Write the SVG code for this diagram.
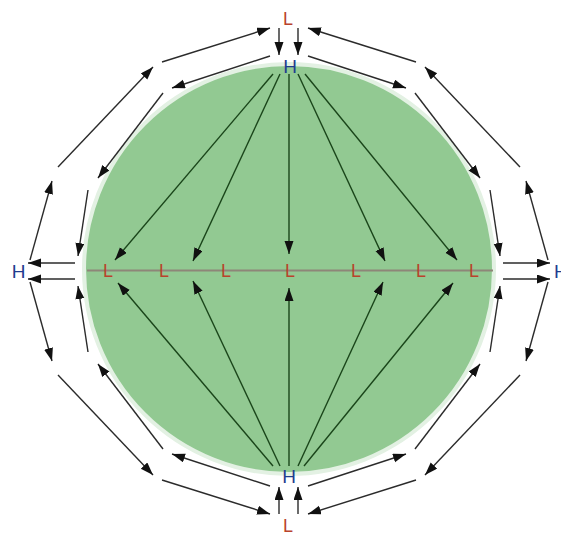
<svg xmlns="http://www.w3.org/2000/svg" width="561" height="535" viewBox="0 0 561 535">
<style>
.ring{stroke:#2b2b2b;stroke-width:1.4;fill:none;marker-end:url(#ah)}
.inner{stroke:#1a451a;stroke-width:1.4;fill:none;marker-end:url(#ah)}
.H{font-family:"Liberation Sans",Arial,sans-serif;font-size:19px;fill:#1f3c8f;text-anchor:middle}
.L{font-family:"Liberation Sans",Arial,sans-serif;font-size:18px;fill:#b9432c;text-anchor:middle}
</style>
<defs>
<marker id="ah" markerUnits="userSpaceOnUse" markerWidth="14" markerHeight="10" refX="13" refY="4.5" orient="auto">
<path d="M0,0 L13,4.5 L0,9 z" fill="#111"/>
</marker>
</defs>
<rect width="561" height="535" fill="#fff"/>
<g id="basin">
<circle cx="289" cy="269" r="205" fill="#92c992" stroke="#e3f1e3" stroke-width="4"/>
<line x1="87" y1="270.5" x2="493" y2="270.5" stroke="#8e8678" stroke-width="2"/>
</g>
<g id="connectors">
<line class="ring" x1="30" y1="260" x2="52" y2="181"/>
<line class="ring" x1="58" y1="167" x2="153" y2="67"/>
<line class="ring" x1="162" y1="62" x2="270" y2="28"/>
<line class="ring" x1="548" y1="260" x2="526" y2="181"/>
<line class="ring" x1="520" y1="167" x2="425" y2="67"/>
<line class="ring" x1="416" y1="62" x2="308" y2="28"/>
<line class="ring" x1="30" y1="282" x2="52" y2="361"/>
<line class="ring" x1="58" y1="375" x2="153" y2="475"/>
<line class="ring" x1="162" y1="480" x2="270" y2="514"/>
<line class="ring" x1="548" y1="282" x2="526" y2="361"/>
<line class="ring" x1="520" y1="375" x2="425" y2="475"/>
<line class="ring" x1="416" y1="480" x2="308" y2="514"/>
<line class="ring" x1="270" y1="56" x2="172" y2="88"/>
<line class="ring" x1="163" y1="93" x2="98" y2="178"/>
<line class="ring" x1="88" y1="190" x2="78" y2="256"/>
<line class="ring" x1="308" y1="56" x2="406" y2="88"/>
<line class="ring" x1="415" y1="93" x2="480" y2="178"/>
<line class="ring" x1="490" y1="190" x2="500" y2="256"/>
<line class="ring" x1="270" y1="486" x2="172" y2="454"/>
<line class="ring" x1="163" y1="449" x2="98" y2="364"/>
<line class="ring" x1="88" y1="352" x2="78" y2="286"/>
<line class="ring" x1="308" y1="486" x2="406" y2="454"/>
<line class="ring" x1="415" y1="449" x2="480" y2="364"/>
<line class="ring" x1="490" y1="352" x2="500" y2="286"/>
<line class="ring" x1="75" y1="263" x2="28" y2="263"/>
<line class="ring" x1="75" y1="279" x2="28" y2="279"/>
<line class="ring" x1="503" y1="263" x2="550" y2="263"/>
<line class="ring" x1="503" y1="279" x2="550" y2="279"/>
<line class="ring" x1="279" y1="28" x2="279" y2="55"/>
<line class="ring" x1="298" y1="28" x2="298" y2="55"/>
<line class="ring" x1="279" y1="514" x2="279" y2="487"/>
<line class="ring" x1="298" y1="514" x2="298" y2="487"/>
<line class="inner" x1="273" y1="74" x2="115" y2="260"/>
<line class="inner" x1="280" y1="74" x2="193" y2="261"/>
<line class="inner" x1="289" y1="74" x2="289" y2="254"/>
<line class="inner" x1="298" y1="74" x2="385" y2="261"/>
<line class="inner" x1="305" y1="74" x2="457" y2="260"/>
<line class="inner" x1="273" y1="466" x2="118" y2="283"/>
<line class="inner" x1="280" y1="466" x2="193" y2="281"/>
<line class="inner" x1="289" y1="466" x2="289" y2="288"/>
<line class="inner" x1="298" y1="466" x2="383" y2="282"/>
<line class="inner" x1="304" y1="466" x2="453" y2="283"/>
</g>
<g id="L-top"><text class="L" x="288" y="25">L</text></g>
<g id="H-top"><text class="H" x="290" y="73">H</text></g>
<g id="H-bottom"><text class="H" x="289" y="483">H</text></g>
<g id="L-bottom"><text class="L" x="288" y="532">L</text></g>
<g id="H-left"><text class="H" x="18.5" y="278">H</text></g>
<g id="H-right"><text class="H" x="554" y="278" style="text-anchor:start">H</text></g>
<g id="L-1"><text class="L" x="108" y="277">L</text></g>
<g id="L-2"><text class="L" x="164" y="277">L</text></g>
<g id="L-3"><text class="L" x="226" y="277">L</text></g>
<g id="L-4"><text class="L" x="290" y="277">L</text></g>
<g id="L-5"><text class="L" x="356" y="277">L</text></g>
<g id="L-6"><text class="L" x="421" y="277">L</text></g>
<g id="L-7"><text class="L" x="474" y="277">L</text></g>
</svg>
